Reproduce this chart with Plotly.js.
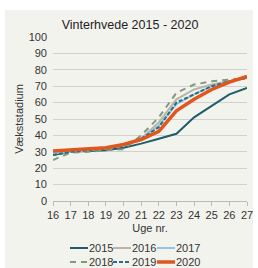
<!DOCTYPE html>
<html>
<head>
<meta charset="utf-8">
<script src="https://cdn.plot.ly/plotly-3.0.1.min.js"></script>
<style>html,body{margin:0;padding:0;background:#fff;}#chart{width:258px;height:268px;}</style>
</head>
<body>
<div id="chart"></div>
<script>
const weeks = [16, 17, 18, 19, 20, 21, 22, 23, 24, 25, 26, 27];
const v2015 = [28, 30, 30.5, 31, 32.5, 35, 38, 41, 51, 58, 65, 69];
const v2016 = [29, 30, 31, 32, 34, 38, 48, 62, 68, 71, 73, 75];
const v2017 = [29, 30, 31, 32, 34, 38, 46, 59, 65, 70, 73, 75];
const v2018 = [25, 29.5, 30, 31, 31.5, 40, 51, 66, 71, 73, 74, 75];
const v2019 = [28, 30, 31, 32, 34, 38, 45, 60, 65, 70, 73, 75];
const v2020 = [30.5, 31, 31.5, 32.5, 34.5, 37.5, 42.5, 55, 62, 68, 72.5, 76];
const seriesNames = ['2015', '2016', '2017', '2018', '2019', '2020'];
const tickVals = [16, 17, 18, 19, 20, 21, 22, 23, 24, 25, 26, 27];

const styles = [
  {color: '#1e5d6a', width: 2, dash: 'solid'},
  {color: '#b9b5a7', width: 2, dash: 'solid'},
  {color: '#8fc5e2', width: 2, dash: 'solid'},
  {color: '#7f9b7c', width: 2, dash: '6px,5px'},
  {color: '#2c6b80', width: 2, dash: '4px,2px'},
  {color: '#e0561c', width: 3.5, dash: 'solid'}
];
const values = [v2015, v2016, v2017, v2018, v2019, v2020];
const traces = values.map((v, i) => ({
  x: weeks, y: v, type: 'scatter', mode: 'lines', name: seriesNames[i],
  line: styles[i]
}));

const font = 'Liberation Sans, Arial, sans-serif';
const L = 53, PW = 194, B = 201, PH = 164;
const px = p => (p - L) / PW;
const py = p => (B - p) / PH;

// manual legend (2 rows x 3)
const legX = [70, 113, 157];
const legY = [248, 262];
const shapes = [{
  type: 'rect', xref: 'paper', yref: 'paper', layer: 'below',
  x0: px(5), x1: px(253), y0: py(270), y1: py(10),
  fillcolor: '#f3f3ee', line: {width: 0}
}];
const annotations = [];
seriesNames.forEach((n, i) => {
  const r = Math.floor(i / 3), c = i % 3;
  const st = styles[i];
  shapes.push({
    type: 'line', xref: 'paper', yref: 'paper',
    x0: px(legX[c]), x1: px(legX[c] + 18), y0: py(legY[r]), y1: py(legY[r]),
    line: {color: st.color, width: st.width, dash: st.dash}
  });
  annotations.push({
    xref: 'paper', yref: 'paper', x: px(legX[c] + 18), y: py(legY[r]),
    xanchor: 'left', yanchor: 'middle', showarrow: false, text: n,
    font: {family: font, size: 11, color: '#333'}, xshift: -1
  });
});

const layout = {
  width: 258, height: 268,
  margin: {l: L, r: 258 - L - PW, t: B - PH, b: 268 - B},
  paper_bgcolor: '#ffffff',
  plot_bgcolor: 'rgba(0,0,0,0)',
  font: {family: font, size: 11, color: '#333333'},
  title: {text: 'Vinterhvede 2015 - 2020', font: {family: font, size: 12.5, color: '#222'}, x: px(130), xref: 'paper', xanchor: 'center', y: 1 - 25 / 268, yanchor: 'middle', yref: 'container'},
  xaxis: {
    range: [16, 27], tickvals: tickVals, ticktext: tickVals.map(String),
    showgrid: false, zeroline: false, showline: true, linecolor: '#bbbbbb', linewidth: 1,
    ticks: 'outside', ticklen: 4, tickcolor: '#bbbbbb',
    tickfont: {family: font, size: 11, color: '#333'},
    title: {text: 'Uge nr.', font: {family: font, size: 11, color: '#333'}, standoff: 4},
    fixedrange: true, automargin: false
  },
  yaxis: {
    range: [0, 100], dtick: 10, tick0: 0,
    showgrid: true, gridcolor: '#d1d1cd', gridwidth: 1, zeroline: false, showline: false,
    ticks: '', ticklabelstandoff: 5, tickfont: {family: font, size: 11, color: '#333'},
    title: {text: 'Vækststadium', font: {family: font, size: 11, color: '#333'}, standoff: 2},
    fixedrange: true, automargin: false
  },
  showlegend: false,
  shapes: shapes,
  annotations: annotations
};
Plotly.newPlot('chart', traces, layout, {displayModeBar: false, staticPlot: true});
</script>
</body>
</html>
